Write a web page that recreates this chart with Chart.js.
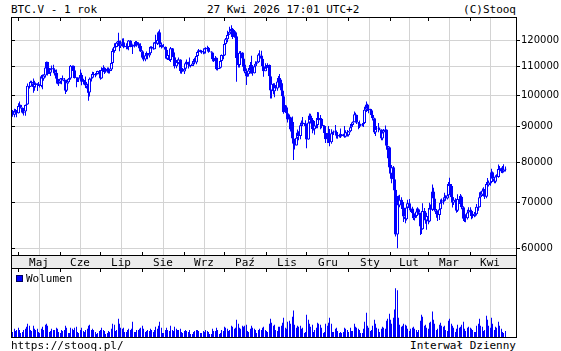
<!DOCTYPE html>
<html>
<head>
<meta charset="utf-8">
<script src="https://cdn.jsdelivr.net/npm/chart.js@4.4.1/dist/chart.umd.min.js"></script>
<style>
body { margin: 0; background: #fff; width: 561px; height: 351px; position: relative; overflow: hidden;
       font-family: "DejaVu Sans Mono", monospace; font-size: 11px; color: #000; }
.t { position: absolute; white-space: pre; line-height: 13px; }
canvas { position: absolute; left: 0; }
#price { top: 0; }
#vol { top: 268px; }
.sq { position: absolute; left: 16px; top: 275px; width: 5px; height: 5px; background: #0000ff; border: 1px solid #000060; }
</style>
</head>
<body>
<div class="t" style="left:11px;top:3px">BTC.V - 1 rok</div>
<div class="t" style="left:207px;top:3px">27 Kwi 2026 17:01 UTC+2</div>
<div class="t" style="right:45px;top:3px">(C)Stooq</div>
<canvas id="price" width="561" height="268"></canvas>
<canvas id="vol" width="561" height="70"></canvas>
<div class="sq"></div>
<div class="t" style="left:26px;top:272px">Wolumen</div>
<div class="t" style="left:11px;top:339px">https://stooq.pl/</div>
<div class="t" style="right:45px;top:339px">Interwał Dzienny</div>

<script>
// daily candles from 27 Apr 2025 (index 0) to 27 Apr 2026, prices in thousands USD
var monthNames = ['Maj', 'Cze', 'Lip', 'Sie', 'Wrz', 'Paź', 'Lis', 'Gru', 'Sty', 'Lut', 'Mar', 'Kwi'];
var monthStart = [4, 35, 65, 96, 127, 157, 188, 218, 249, 280, 308, 339, 369];
var yTicks = [60000, 70000, 80000, 90000, 100000, 110000, 120000];

var open0 = 94.6;
var close = [
  93.7,95.0,94.3,94.2,
  96.5,96.9,95.9,94.3,94.7,96.8,97.0,103.2,102.9,104.6,104.1,102.8,104.1,103.5,103.7,103.5,103.1,106.5,105.6,106.8,109.7,111.7,107.3,107.8,109.0,109.4,108.9,107.8,105.6,103.9,104.6,
  105.7,105.8,105.4,104.7,101.5,104.4,105.6,105.7,110.3,110.3,108.7,105.9,106.0,105.4,105.6,107.0,104.6,104.9,104.6,103.3,102.2,100.9,105.6,106.0,107.3,106.9,107.1,107.3,108.4,107.1,
  105.7,108.8,109.6,108.0,108.2,109.2,108.3,108.9,111.3,115.9,117.5,117.4,119.1,119.8,117.7,118.7,119.3,117.9,117.9,117.3,117.4,120.0,118.8,118.4,117.6,117.9,119.4,118.0,117.8,117.8,115.8,
  113.3,112.6,114.2,115.1,114.1,115.0,117.5,116.7,116.5,119.3,118.7,120.2,123.3,118.4,117.4,117.5,117.5,116.3,112.9,114.3,112.4,116.9,115.4,113.5,110.1,111.8,111.3,112.6,108.4,108.8,108.2,
  109.2,111.2,111.7,110.7,110.2,110.2,111.1,112.1,111.5,113.9,115.5,116.1,115.9,115.3,115.3,116.8,116.5,117.1,115.6,115.7,115.3,112.7,112.0,113.3,109.0,109.6,109.6,112.1,114.3,114.1,
  118.6,120.5,122.2,122.4,123.5,124.8,121.4,123.3,121.7,113.2,110.6,115.2,115.3,113.0,110.8,108.2,106.5,107.2,108.6,110.6,108.5,107.6,110.1,111.0,111.6,114.5,114.1,112.9,110.1,108.3,109.6,
  110.1,110.6,106.5,101.6,103.9,101.3,103.4,102.3,104.7,105.9,103.1,101.6,99.7,94.5,95.6,94.2,92.2,92.9,91.5,86.6,85.1,84.6,86.8,88.3,87.3,90.5,91.3,90.9,90.8,90.4,
  86.3,91.3,93.5,92.1,89.4,89.3,90.4,90.6,92.7,92.0,92.5,90.3,90.3,88.2,86.4,87.8,86.1,85.5,88.1,88.3,88.6,88.5,87.4,87.6,87.2,87.3,87.8,87.8,87.1,88.4,87.5,
  88.7,89.9,90.6,91.4,93.9,93.7,91.3,91.0,90.5,90.4,90.8,91.2,95.3,97.0,95.6,95.5,95.1,93.6,92.6,88.3,89.4,89.5,89.5,89.2,86.6,88.3,89.1,89.2,84.5,84.1,78.6,
  77.0,78.7,75.6,73.0,62.9,70.5,69.3,70.6,70.1,68.8,66.8,66.2,68.8,69.8,68.7,68.6,67.5,66.4,66.9,67.9,68.4,67.6,64.6,64.0,68.0,67.5,65.9,66.9,
  65.7,68.7,68.3,72.6,70.9,68.2,67.3,67.1,68.4,69.9,70.2,70.5,71.2,70.9,71.7,74.4,73.9,71.2,69.9,70.6,70.4,68.1,70.8,70.5,71.3,68.9,66.3,66.8,66.4,67.7,68.2,
  68.0,66.9,66.9,67.4,67.3,69.0,68.9,71.2,71.8,72.8,73.0,71.3,74.4,74.1,74.8,74.9,77.4,75.7,75.0,76.3,76.2,78.2,78.4,77.6,77.5,78.1,78.3
];
var high = [
  95.2,95.6,95.5,95.2,
  97.4,97.9,96.9,96.0,95.2,96.9,97.7,104.0,104.3,104.9,104.9,105.7,104.9,104.3,104.1,104.5,103.7,107.0,107.1,107.2,110.7,111.9,111.8,109.5,109.3,110.4,110.7,109.3,108.9,106.3,104.9,
  105.9,105.9,106.8,105.9,105.0,105.3,105.9,106.4,110.6,110.4,110.4,108.8,106.2,106.2,106.1,108.9,107.8,105.6,105.2,106.4,103.9,102.4,106.1,106.3,108.1,108.0,107.7,107.6,108.5,108.8,
  107.6,109.8,110.5,109.8,108.4,109.7,109.7,109.2,111.9,116.8,118.9,118.2,119.5,123.1,119.9,120.0,120.8,120.9,118.5,118.9,119.7,120.2,120.1,119.5,118.4,118.4,119.8,119.8,119.3,118.8,118.9,
  116.1,114.0,114.8,115.7,115.1,115.7,117.7,117.7,117.9,119.3,122.3,120.3,123.7,124.5,119.2,117.9,118.6,117.6,116.8,114.6,114.4,117.4,117.0,115.8,113.6,112.4,112.6,113.4,112.7,108.9,109.5,
  109.9,111.8,112.6,111.8,113.4,110.6,111.5,112.8,113.3,114.3,115.5,116.6,116.3,116.1,116.8,117.0,117.3,117.9,117.4,116.2,115.8,115.4,113.3,113.9,113.4,110.3,109.8,112.4,114.5,114.8,
  118.6,121.0,123.9,122.9,125.6,126.2,125.1,124.2,123.7,122.5,113.4,115.8,115.9,115.4,113.6,111.9,109.3,107.5,109.5,111.7,114.0,109.0,110.9,112.0,111.9,115.0,116.1,116.0,113.6,111.6,111.2,
  110.6,111.2,110.8,107.0,104.5,104.1,104.1,103.4,105.0,106.6,107.3,105.3,104.1,99.9,96.8,96.6,96.0,93.8,93.1,93.2,87.4,85.6,88.0,89.2,88.7,91.0,91.9,93.0,91.2,92.0,
  91.0,92.3,94.1,94.0,92.7,90.3,91.8,92.3,94.6,94.5,93.6,92.7,90.6,90.5,90.0,88.2,90.3,89.4,89.3,88.5,88.9,90.6,88.9,87.9,88.0,89.5,87.9,88.0,90.3,89.0,89.1,
  88.8,90.9,91.0,91.6,94.7,94.3,93.7,91.5,91.9,90.8,91.2,92.4,96.2,97.9,97.2,95.9,95.6,95.5,93.6,92.8,90.3,90.3,91.2,89.8,89.3,88.7,89.4,90.4,89.2,84.6,84.3,
  79.0,79.3,79.0,76.9,73.3,71.5,71.6,71.8,71.2,70.5,69.3,68.2,69.4,70.6,70.8,69.5,69.0,68.3,67.4,68.6,68.9,68.6,67.6,65.0,69.8,68.7,67.9,67.6,
  67.9,69.9,69.5,74.3,73.5,71.3,68.5,67.8,69.4,70.7,70.9,71.1,72.3,71.7,72.3,74.9,76.0,74.4,71.6,71.2,71.0,70.6,71.9,71.5,72.0,71.6,69.1,67.4,67.3,68.3,68.9,
  68.9,68.3,67.5,67.8,67.9,69.6,70.0,72.4,72.6,73.3,73.6,73.2,74.9,75.9,75.3,75.4,78.3,77.6,76.0,76.6,76.9,79.4,79.0,78.6,79.0,79.5,78.9
];
var low = [
  93.1,92.9,93.9,92.9,
  94.1,96.3,95.7,94.1,93.5,93.4,95.8,96.9,102.3,102.8,103.4,100.8,101.5,102.6,101.4,103.1,102.6,102.7,102.0,104.9,106.1,109.3,106.8,107.3,106.6,108.7,107.6,106.8,105.4,103.7,103.1,
  103.9,103.7,105.0,104.2,100.4,101.1,104.0,105.1,105.3,108.4,108.1,105.7,102.7,104.5,104.5,105.0,103.4,103.6,103.9,102.4,100.8,98.2,99.6,104.7,105.9,106.6,106.2,106.8,107.2,106.8,
  105.3,105.6,108.6,107.3,107.8,107.8,107.5,107.5,108.4,110.6,115.2,116.9,117.3,118.9,115.8,117.0,117.5,116.9,117.3,116.5,116.5,116.1,117.3,117.4,114.7,117.2,117.8,117.5,116.9,115.8,115.5,
  112.7,112.0,112.0,114.0,112.7,113.4,114.3,115.9,116.3,116.6,118.1,118.2,118.9,117.2,116.8,117.2,117.3,114.7,112.7,112.4,112.1,111.7,114.6,110.8,109.3,109.4,110.4,110.9,107.5,107.4,108.1,
  107.3,108.7,110.6,109.3,110.0,109.7,110.3,110.5,110.9,110.9,113.4,114.8,115.3,114.8,114.6,114.8,114.9,116.5,115.2,115.6,115.2,112.0,111.7,111.2,108.7,108.6,109.1,109.3,111.6,112.7,
  113.9,118.0,119.3,121.6,122.3,123.1,120.6,121.1,119.6,104.6,109.7,109.7,113.7,109.9,110.2,107.6,103.5,106.3,106.4,107.5,107.4,106.7,107.5,109.2,110.9,111.3,113.8,112.1,109.6,106.3,108.7,
  109.4,109.6,105.4,98.9,98.9,100.3,99.3,101.4,101.5,104.3,102.6,100.8,98.0,94.0,94.6,93.0,91.3,89.3,88.6,86.3,80.6,83.5,84.7,85.3,86.1,86.4,90.1,90.3,90.3,90.3,
  83.8,86.2,91.0,91.0,88.1,88.9,87.7,89.6,89.6,91.6,89.3,89.6,89.9,87.7,85.3,85.3,85.3,84.4,85.1,87.9,87.6,88.0,86.6,86.5,86.9,86.7,87.2,87.4,86.8,86.9,87.2,
  87.2,88.4,89.3,90.5,91.4,91.3,90.9,89.3,89.7,90.1,90.2,90.0,91.0,94.6,94.9,94.2,94.9,93.5,91.9,87.9,87.3,88.6,88.4,89.0,86.1,86.1,87.3,88.7,83.4,81.1,77.3,
  75.7,74.6,72.9,72.1,62.5,60.1,67.5,68.9,68.5,68.2,65.6,65.3,65.9,68.6,68.2,67.8,66.6,66.0,65.9,66.5,67.6,67.2,62.8,63.0,63.9,66.7,65.2,63.9,
  65.1,65.5,66.3,68.0,70.2,67.9,66.5,65.8,66.0,68.2,69.3,69.5,70.2,70.4,70.7,71.5,73.2,70.7,68.8,69.4,69.8,67.6,67.8,69.6,70.2,68.4,65.8,65.6,65.5,66.1,66.7,
  67.3,66.2,66.4,66.6,66.8,67.0,68.1,68.8,70.9,71.5,72.4,70.8,71.0,73.8,73.8,74.0,74.6,75.3,74.6,74.6,75.4,76.0,77.2,77.2,77.1,77.3,77.6
];
// volume, relative units (no scale shown on the chart)
var volume = [
  6,9,7,8,
  10,8,5,6,8,9,11,14,12,8,7,12,9,8,9,6,5,9,11,8,13,14,12,6,7,9,8,8,10,9,6,
  5,8,7,8,12,10,5,5,10,9,8,10,11,6,5,8,10,7,6,8,9,12,13,8,9,8,6,4,5,7,
  8,10,8,7,4,5,7,6,9,14,13,7,8,19,14,10,9,10,6,6,8,9,8,9,16,6,6,8,8,9,10,
  12,9,6,7,8,7,9,8,6,8,11,9,12,16,10,5,5,8,10,8,7,12,8,7,11,9,8,8,9,6,5,
  7,8,7,6,8,4,4,6,7,8,8,7,5,5,7,6,8,7,6,4,4,9,7,7,10,8,4,5,8,7,
  11,10,9,7,8,12,11,9,10,18,14,10,9,12,11,12,13,7,6,9,12,10,9,8,5,8,9,8,10,11,8,
  7,6,14,19,15,12,13,8,7,11,11,12,15,20,10,9,16,17,14,21,27,13,10,12,11,12,9,10,5,6,
  23,18,14,11,13,6,8,10,15,14,13,10,5,6,14,12,15,20,14,6,6,9,10,7,5,6,5,6,10,9,8,
  6,10,7,7,14,11,10,9,8,5,5,9,16,25,12,10,7,8,12,18,14,10,9,6,9,11,10,9,17,19,24,
  18,14,20,28,49,47,20,13,11,12,14,13,12,9,7,9,10,11,9,8,6,8,17,23,21,12,13,10,
  9,15,16,26,18,14,8,9,13,15,12,11,12,8,7,17,19,14,12,10,6,9,13,10,11,13,16,9,7,10,11,
  10,9,8,6,6,12,14,19,12,11,7,8,22,18,12,10,20,14,8,11,10,16,12,9,6,5,7
];

var BLUE = '#0000ff';
var GRID = '#d3d3d3';
var xMin = -1.4, xMax = 373.1;

var bodies = [], wicks = [], fills = [], vols = [];
close.forEach(function (c, i) {
    var o = i ? close[i - 1] : open0;
    bodies.push({ x: i, y: [o * 1000, c * 1000] });
    wicks.push({ x: i, y: [Math.min(low[i], o, c) * 1000, Math.max(high[i], o, c) * 1000] });
    fills.push(c >= o ? '#ffffff' : BLUE);
    vols.push({ x: i, y: volume[i] });
});

var midMonth = [];
for (var m = 0; m < monthNames.length; m++) midMonth.push((monthStart[m] + monthStart[m + 1]) / 2);
var boundaries = monthStart.slice(0, 12);

function al(p) { return Math.round(p - 0.5) + 0.5; }

// put every bar on whole pixels so the thin bars stay sharp
var snap = {
    id: 'snap',
    beforeDatasetsDraw: function (chart) {
        chart.getSortedVisibleDatasetMetas().forEach(function (meta) {
            meta.data.forEach(function (el) { el.x = Math.floor(el.x) + 0.5; });
        });
    }
};

// frame, small inner ticks, grey month band with its labels
var frame = {
    id: 'frame',
    beforeDraw: function (chart, args, opts) {
        if (!opts.band) return;
        var a = chart.chartArea, ctx = chart.ctx;
        ctx.save();
        ctx.fillStyle = '#ececec';
        ctx.fillRect(a.left, a.bottom, a.right - a.left, opts.band);
        ctx.restore();
    },
    afterDraw: function (chart, args, opts) {
        var a = chart.chartArea, ctx = chart.ctx;
        var xs = chart.scales.x;
        ctx.save();
        ctx.strokeStyle = '#000';
        ctx.lineWidth = 1;
        ctx.strokeRect(a.left + 0.5, a.top + 0.5, a.right - a.left, a.bottom - a.top - 1);
        ctx.beginPath();
        boundaries.forEach(function (b) {
            var px = al(xs.getPixelForValue(b));
            ctx.moveTo(px, a.top); ctx.lineTo(px, a.top + 4);
            if (opts.band) { ctx.moveTo(px, a.bottom - 4); ctx.lineTo(px, a.bottom); }
        });
        if (opts.band) {
            ctx.moveTo(a.left + 0.5, a.bottom); ctx.lineTo(a.left + 0.5, a.bottom + opts.band);
            ctx.moveTo(a.right + 0.5, a.bottom); ctx.lineTo(a.right + 0.5, a.bottom + opts.band);
            yTicks.forEach(function (v) {
                var py = al(chart.scales.y.getPixelForValue(v));
                ctx.moveTo(a.left, py); ctx.lineTo(a.left + 4, py);
            });
        }
        ctx.stroke();
        if (opts.band) {
            ctx.fillStyle = '#000';
            ctx.font = '11px "DejaVu Sans Mono"';
            ctx.textAlign = 'center';
            ctx.textBaseline = 'alphabetic';
            midMonth.forEach(function (v, i) {
                ctx.fillText(monthNames[i], Math.round(xs.getPixelForValue(v)), a.bottom + 10);
            });
        }
        ctx.restore();
    }
};

var priceChart = new Chart(document.getElementById('price'), {
    type: 'bar',
    data: {
        datasets: [{
            label: 'knot',
            data: wicks,
            backgroundColor: BLUE,
            barThickness: 1,
            inflateAmount: 0,
            grouped: false,
            order: 2
        }, {
            label: 'BTC.V',
            data: bodies,
            backgroundColor: fills,
            borderColor: BLUE,
            borderWidth: 1,
            borderSkipped: false,
            barThickness: 3,
            inflateAmount: 0,
            grouped: false,
            order: 1
        }]
    },
    options: {
        responsive: false,
        animation: false,
        devicePixelRatio: 1,
        layout: { padding: { left: 11, top: 17, right: 0, bottom: 0 } },
        plugins: { legend: { display: false }, tooltip: { enabled: false }, frame: { band: 12 } },
        scales: {
            x: {
                type: 'linear', min: xMin, max: xMax, offset: false,
                grid: { color: GRID, drawTicks: false },
                border: { display: false },
                ticks: { display: false },
                afterBuildTicks: function (s) { s.ticks = boundaries.map(function (v) { return { value: v }; }); },
                afterFit: function (s) { s.height = 12; }
            },
            y: {
                type: 'logarithmic', position: 'right', min: 58560, max: 129740,
                grid: { color: GRID, tickColor: '#000', tickLength: 4 },
                border: { display: false },
                ticks: {
                    padding: 1, color: '#000',
                    font: { family: 'DejaVu Sans', size: 10 },
                    callback: function (v) { return String(v); }
                },
                afterBuildTicks: function (s) { s.ticks = yTicks.map(function (v) { return { value: v }; }); },
                afterFit: function (s) { s.width = 45; }
            }
        }
    },
    plugins: [snap, frame]
});

var volChart = new Chart(document.getElementById('vol'), {
    type: 'bar',
    data: {
        datasets: [{
            label: 'Wolumen',
            data: vols,
            backgroundColor: BLUE,
            barThickness: 1,
            inflateAmount: 0
        }]
    },
    options: {
        responsive: false,
        animation: false,
        devicePixelRatio: 1,
        layout: { padding: { left: 11, top: 0, right: 45, bottom: 0 } },
        plugins: { legend: { display: false }, tooltip: { enabled: false }, frame: { band: 0 } },
        scales: {
            x: {
                type: 'linear', min: xMin, max: xMax, offset: false,
                grid: { color: GRID, drawTicks: false },
                border: { display: false },
                ticks: { display: false },
                afterBuildTicks: function (s) { s.ticks = boundaries.map(function (v) { return { value: v }; }); },
                afterFit: function (s) { s.height = 0; }
            },
            y: { display: false, min: 0, max: 69 }
        }
    },
    plugins: [snap, frame]
});
</script>
</body>
</html>
